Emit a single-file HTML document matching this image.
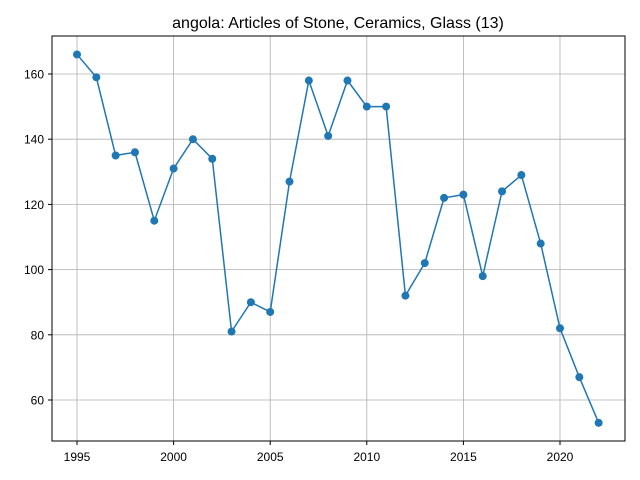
<!DOCTYPE html>
<html><head><meta charset="utf-8"><style>
body{margin:0;background:#fff;}
svg{display:block;font-family:"Liberation Sans","DejaVu Sans",sans-serif;}
</style></head><body>
<svg id="chart" width="640" height="480" viewBox="0 0 640 480">
<rect width="640" height="480" fill="#fff"/>
<text x="338" y="28" text-anchor="middle" font-size="16">angola: Articles of Stone, Ceramics, Glass (13)</text>
<g id="grid"></g>
<g id="xticks"></g>
<g id="yticks"></g>
<g id="series"></g>
<rect x="52" y="36" width="573" height="405" fill="none" stroke="#000" stroke-width="1"/>
</svg>
<script>
const years = [1995,1996,1997,1998,1999,2000,2001,2002,2003,2004,2005,2006,2007,2008,2009,2010,2011,2012,2013,2014,2015,2016,2017,2018,2019,2020,2021,2022];
const values = [166,159,135,136,115,131,140,134,81,90,87,127,158,141,158,150,150,92,102,122,123,98,124,129,108,82,67,53];
const xTickLabels = [1995,2000,2005,2010,2015,2020];
const yTickLabels = [60,80,100,120,140,160];

const NS="http://www.w3.org/2000/svg";
function xs(v){return 77+(v-1995)*(560-77)/25;}
function ys(v){return 400-(v-60)*(400-74)/100;}
function mk(tag,attrs,parent){const e=document.createElementNS(NS,tag);for(const k in attrs)e.setAttribute(k,attrs[k]);parent.appendChild(e);return e;}
const grid=document.getElementById('grid'),xt=document.getElementById('xticks'),yt=document.getElementById('yticks'),ser=document.getElementById('series');
xTickLabels.forEach(t=>{
  const x=xs(t);
  const g=mk('line',{x1:x,x2:x,y1:36,y2:441,stroke:'#b0b0b0','stroke-width':0.8},grid);
  
  
  const tk=mk('line',{x1:x,x2:x,y1:441,y2:445,stroke:'#000'},xt);
  
  
  const tx=mk('text',{x:x,y:461,'text-anchor':'middle','font-size':12},xt);
  tx.textContent=t;
  
  
});
yTickLabels.forEach(t=>{
  const y=ys(t);
  const g=mk('line',{x1:52,x2:625,y1:y,y2:y,stroke:'#b0b0b0','stroke-width':0.8},grid);
  
  
  const tk=mk('line',{x1:48,x2:52,y1:y,y2:y,stroke:'#000'},yt);
  
  
  const tx=mk('text',{x:44,y:y+4.5,'text-anchor':'end','font-size':12},yt);
  tx.textContent=t;
  
  
});
const pts=years.map((y,i)=>xs(y)+','+ys(values[i])).join(' ');
const pl=mk('polyline',{points:pts,fill:'none',stroke:'#1f77b4','stroke-width':1.5},ser);


years.forEach((y,i)=>{
  const c=mk('circle',{cx:xs(y),cy:ys(values[i]),r:4,fill:'#1f77b4'},ser);
  
  
});
</script>
</body></html>
